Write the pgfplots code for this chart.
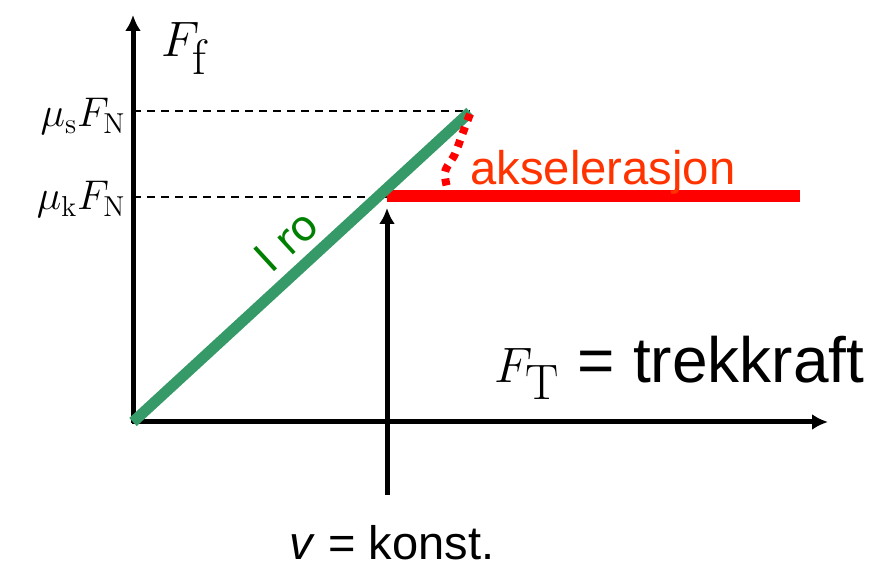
\documentclass[border=0pt]{standalone}
\usepackage[no-math]{fontspec}
\setmainfont{Liberation Sans}
\newfontfamily\dejavu{DejaVu Sans}
\usepackage{pgfplots}
\pgfplotsset{compat=1.18}
\usetikzlibrary{arrows.meta}
\definecolor{rgreen}{RGB}{54,154,104}
\definecolor{tgreen}{RGB}{0,128,0}
\definecolor{tred}{RGB}{255,51,0}
\begin{document}
\begin{tikzpicture}
\begin{axis}[scale only axis, width=442.5pt, height=283pt,
  xmin=-133, xmax=752, ymin=-144, ymax=422, hide axis, clip=false]
% invisible frame for bounding box
\addplot[draw=none] coordinates {(-133,-144) (752,422)};
% axes
\addplot[black, line width=2.5pt, -{Latex[length=8pt,width=8pt]}] coordinates {(0,-1) (0,407)};
\addplot[black, line width=2.5pt, -{Latex[length=8pt,width=8pt]}] coordinates {(-1,0) (695,0)};
% dashed guides
\addplot[black, line width=0.9pt, dash pattern=on 4pt off 3pt] coordinates {(0,311) (337,311)};
\addplot[black, line width=0.9pt, dash pattern=on 4pt off 3pt] coordinates {(0,225) (254,225)};
% kinetic friction (red)
\addplot[red, line width=6pt] coordinates {(254,226) (667,226)};
% static region (green)
\addplot[rgreen, line width=5.5pt] coordinates {(0,0) (337,310)};
% dotted transition
\addplot[red, line width=4pt, dash pattern=on 3.5pt off 3.5pt, smooth] coordinates {(337,308) (329,287) (322,268) (312,250) (315,231)};
% arrow v = konst
\addplot[black, line width=2.5pt, -{Latex[length=8pt,width=8pt]}] coordinates {(254,-73) (254,214)};
% labels
\node[anchor=base west, inner sep=0pt] at (axis cs:28,365) {\fontsize{35}{40}\selectfont $F_{\mathrm{f}}$};
\node[anchor=base east, inner sep=0pt] at (axis cs:-7,295) {\fontsize{22}{26}\selectfont $\mu_{\mathrm{s}}F_{\mathrm{N}}$};
\node[anchor=base east, inner sep=0pt] at (axis cs:-7,212) {\fontsize{22}{26}\selectfont $\mu_{\mathrm{k}}F_{\mathrm{N}}$};
\node[anchor=base west, inner sep=0pt, text=tred] at (axis cs:337,237) {\fontsize{23.6}{28}\selectfont akselerasjon};
\node[rotate=42.6, inner sep=0pt, text=tgreen] at (axis cs:153,181) {\dejavu\fontsize{21}{25}\selectfont I ro};
\node[anchor=base west, inner sep=0pt] at (axis cs:361,39) {\fontsize{32}{38}\selectfont {\fontsize{35}{40}\selectfont$F_{\mathrm{T}}$} = trekkraft};
\node[anchor=base, inner sep=0pt] at (axis cs:259,-138) {\fontsize{23.5}{28}\selectfont \textit{v} = konst.};
\end{axis}
\end{tikzpicture}
\end{document}
